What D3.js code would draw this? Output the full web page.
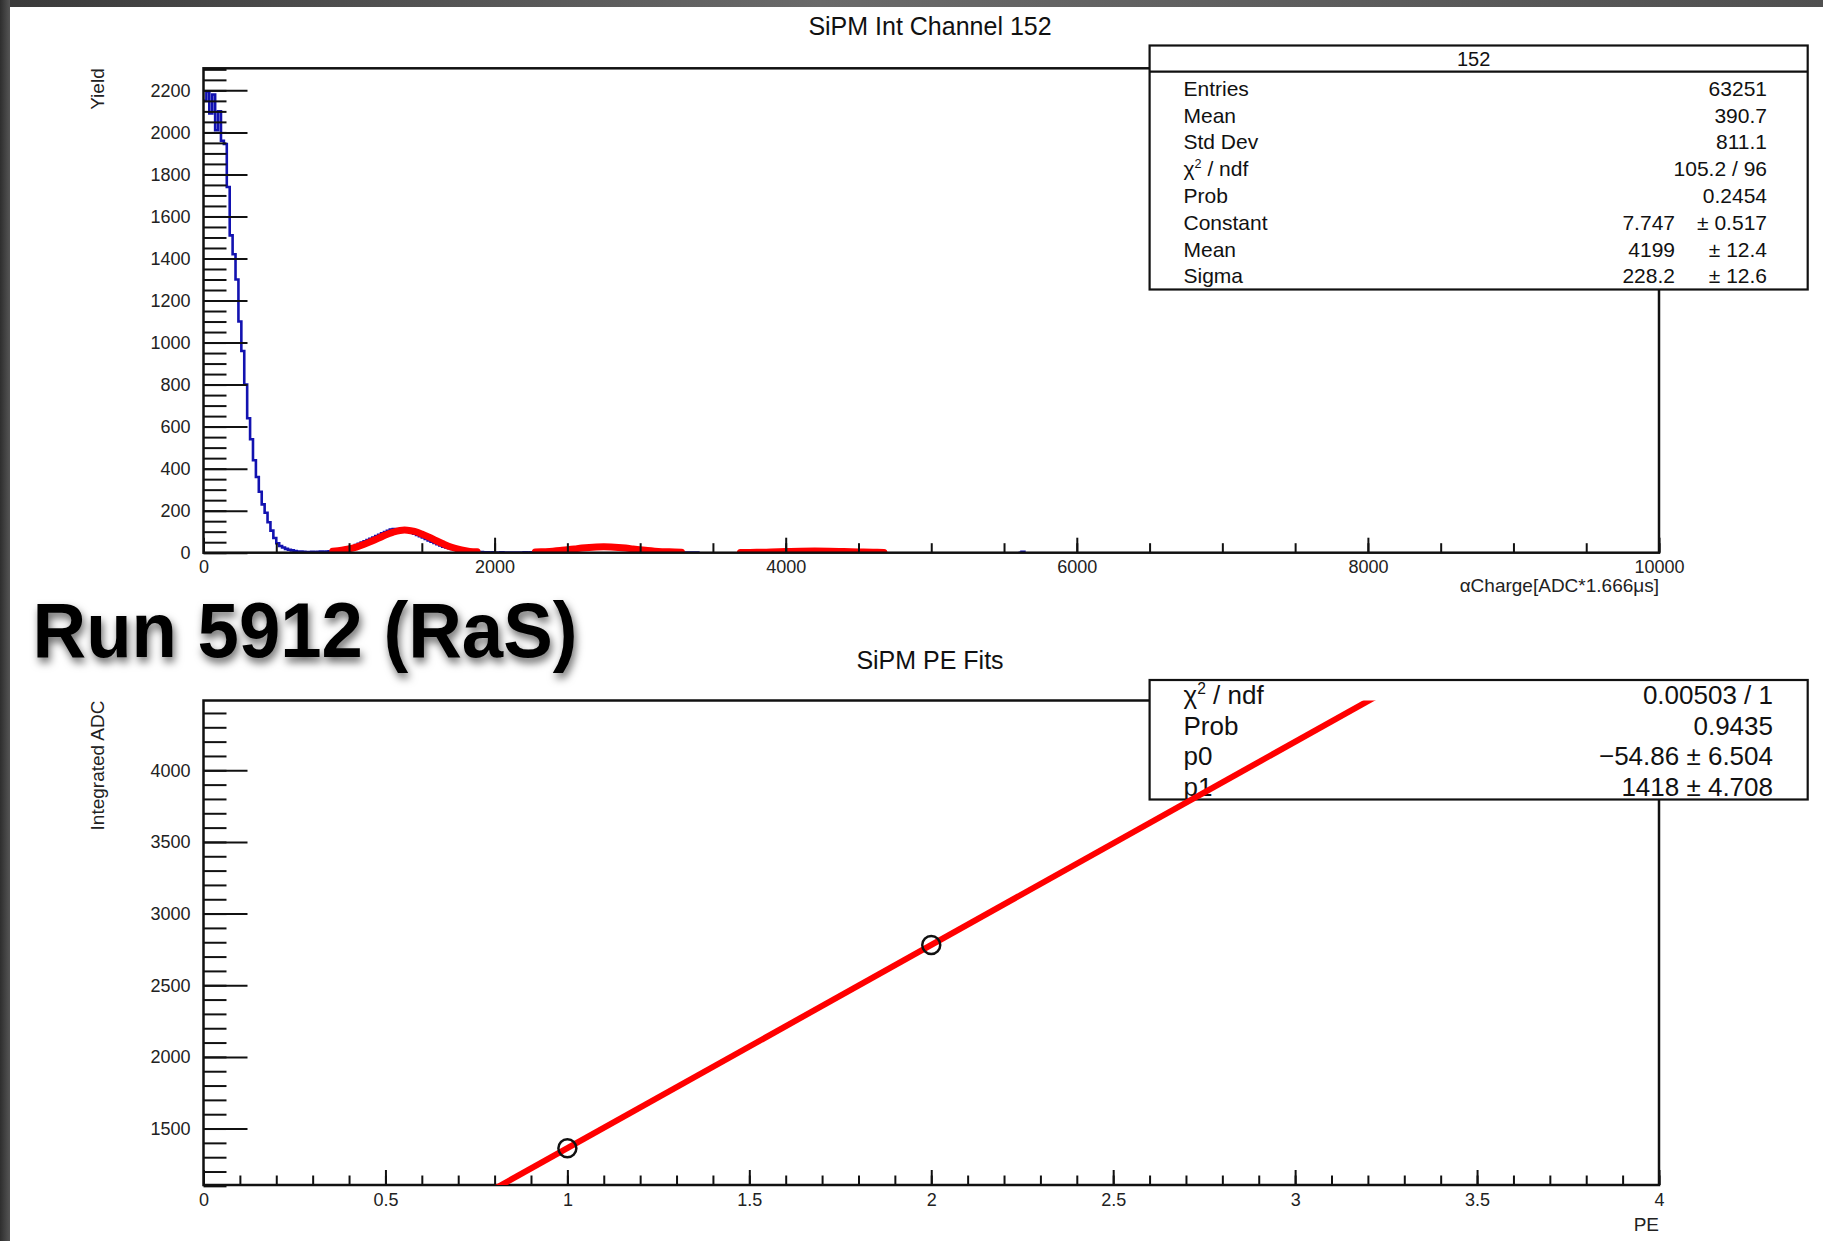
<!DOCTYPE html>
<html><head><meta charset="utf-8">
<script src="https://cdn.jsdelivr.net/npm/d3@7"></script>
<style>
body{margin:0;background:#fff;overflow:hidden}
svg{display:block}
text{font-family:"Liberation Sans",Arial,Helvetica,sans-serif}
</style>
</head><body>
<svg id="c" width="1823" height="1241"></svg>
<script>
// ---------------- DATA ----------------
// Top: SiPM Int Channel 152 histogram (bin width 20, starting at 0)
const histStart = 0;
const histBinWidth = 20;
const histCounts = [
  2150, 2195, 2090, 2180, 2010, 2100, 1960, 1945, 1740, 1510,
  1420, 1300, 1100, 960, 800, 640, 540, 440, 360, 290,
  230, 190, 145, 105, 70, 45, 32, 25, 18, 14,
  11, 8, 6, 5, 4, 3, 3, 4, 3, 4,
  5, 4, 6, 7, 9, 12, 14, 17, 20, 24,
  27, 31, 36, 42, 48, 54, 60, 66, 72, 79,
  85, 92, 98, 104, 110, 113, 109, 112, 106, 104,
  100, 96, 90, 84, 78, 72, 65, 58, 52, 46,
  40, 34, 29, 25, 21, 18, 15, 12, 10, 8,
  7, 6, 5, 4, 3, 3, 2, 2, 1, 2,
  1, 1, 2, 1, 1, 1, 1, 1, 1, 1,
  2, 1, 2, 2, 2, 3, 3, 4, 5, 6,
  7, 8, 10, 11, 13, 14, 16, 18, 20, 21,
  23, 24, 26, 27, 27, 28, 28, 29, 28, 28,
  27, 26, 25, 24, 22, 21, 19, 17, 15, 14,
  12, 11, 9, 8, 7, 6, 5, 4, 4, 3,
  3, 2, 2, 2, 1, 1, 1, 1, 1, 1
];
const strayBinStarts = [5620];
const strayBinCounts = [4];

// Gaussian fit curves
const peak1X = [888, 950, 1000, 1050, 1100, 1150, 1200, 1250, 1300, 1350, 1400, 1450, 1500, 1550, 1600, 1650, 1700, 1750, 1800, 1850, 1880];
const peak1Y = [7, 12, 18, 27, 39, 53, 68, 84, 97, 106, 107, 101, 89, 74, 57, 41, 27, 17, 10, 5, 4];
const peak2X = [2280, 2350, 2400, 2450, 2500, 2550, 2600, 2650, 2700, 2750, 2800, 2850, 2900, 2950, 3000, 3050, 3100, 3150, 3200, 3284];
const peak2Y = [3, 5, 7, 10, 14, 18, 22, 25, 27, 28, 27, 25, 22, 18, 14, 10, 7, 5, 4, 2];
const peak3X = [3689, 3800, 3900, 4000, 4100, 4199, 4300, 4400, 4500, 4600, 4675];
const peak3Y = [0.7, 1.7, 3.3, 5.4, 7.0, 7.7, 7.0, 5.5, 3.5, 2.0, 1.2];

const topXTicks = [0, 2000, 4000, 6000, 8000, 10000];
const topXTickLabels = ["0", "2000", "4000", "6000", "8000", "10000"];
const topYTicks = [0, 200, 400, 600, 800, 1000, 1200, 1400, 1600, 1800, 2000, 2200];
const topYTickLabels = ["0", "200", "400", "600", "800", "1000", "1200", "1400", "1600", "1800", "2000", "2200"];

const stats1Title = "152";
const stats1Labels = ["Entries", "Mean", "Std Dev", "CHI2", "Prob", "Constant", "Mean", "Sigma"];
const stats1Values = ["63251", "390.7", "811.1", "105.2 / 96", "0.2454", "7.747", "4199", "228.2"];
const stats1Errors = ["", "", "", "", "", "0.517", "12.4", "12.6"];

// Bottom: SiPM PE Fits
const peValues = [1, 2];
const adcValues = [1363, 2781];
const fitP0 = -54.86;
const fitP1 = 1418;
const fitRange = [0, 4];

const botXTicks = [0, 0.5, 1, 1.5, 2, 2.5, 3, 3.5, 4];
const botXTickLabels = ["0", "0.5", "1", "1.5", "2", "2.5", "3", "3.5", "4"];
const botYTicks = [1500, 2000, 2500, 3000, 3500, 4000];
const botYTickLabels = ["1500", "2000", "2500", "3000", "3500", "4000"];

const stats2Labels = ["CHI2", "Prob", "p0", "p1"];
const stats2Values = ["0.00503 / 1", "0.9435", "\u221254.86 \u00b1 6.504", "1418 \u00b1 4.708"];

// ---------------- DRAW ----------------
const W = 1823, H = 1241;
const svg = d3.select("#c");
const defs = svg.append("defs");

const tg = defs.append("linearGradient").attr("id", "topg").attr("x1", 0).attr("x2", 1).attr("y1", 0).attr("y2", 0);
tg.append("stop").attr("offset", "0").attr("stop-color", "#3a3a3a");
tg.append("stop").attr("offset", "0.45").attr("stop-color", "#6a6a6a");
tg.append("stop").attr("offset", "1").attr("stop-color", "#505050");
const lg = defs.append("linearGradient").attr("id", "leftg").attr("x1", 0).attr("x2", 1).attr("y1", 0).attr("y2", 0);
lg.append("stop").attr("offset", "0").attr("stop-color", "#2e2e2e");
lg.append("stop").attr("offset", "1").attr("stop-color", "#555");

const ds = defs.append("filter").attr("id", "shadow").attr("x", "-10%").attr("y", "-20%").attr("width", "130%").attr("height", "160%");
ds.append("feDropShadow").attr("dx", 2).attr("dy", 5).attr("stdDeviation", 4).attr("flood-color", "#000").attr("flood-opacity", 0.6);

svg.append("rect").attr("width", W).attr("height", H).attr("fill", "#fff");
svg.append("rect").attr("x", 0).attr("y", 0).attr("width", W).attr("height", 7).attr("fill", "url(#topg)");
svg.append("rect").attr("x", 0).attr("y", 0).attr("width", 10).attr("height", H).attr("fill", "url(#leftg)");

const TICKC = "#111", LABC = "#222";

function styleAxis(g, fs) {
  g.select(".domain").remove();
  g.selectAll(".tick line").attr("stroke", TICKC).attr("stroke-width", 2);
  g.selectAll(".tick text").attr("fill", LABC).attr("font-size", fs)
    .attr("font-family", '"Liberation Sans", Arial, sans-serif');
}

function drawFrame(box, x, y, xt, xtl, xMinor, yt, ytl, yMinor) {
  const g = svg.append("g");
  g.append("g").attr("transform", `translate(0,${box.b})`)
    .call(d3.axisBottom(x).tickValues(xMinor).tickFormat("").tickSize(-9.5))
    .call(a => styleAxis(a, 18));
  g.append("g").attr("transform", `translate(0,${box.b})`)
    .call(d3.axisBottom(x).tickValues(xt).tickFormat((d, i) => xtl[i]).tickSize(-15).tickPadding(8))
    .call(a => styleAxis(a, 18));
  g.append("g").attr("transform", `translate(${box.l},0)`)
    .call(d3.axisLeft(y).tickValues(yMinor).tickFormat("").tickSize(-23))
    .call(a => styleAxis(a, 18));
  g.append("g").attr("transform", `translate(${box.l},0)`)
    .call(d3.axisLeft(y).tickValues(yt).tickFormat((d, i) => ytl[i]).tickSize(-44).tickPadding(13))
    .call(a => styleAxis(a, 18));
  g.append("rect").attr("x", box.l).attr("y", box.t).attr("width", box.r - box.l).attr("height", box.b - box.t)
    .attr("fill", "none").attr("stroke", "#111").attr("stroke-width", 2.5);
}

function chiLabel(sel, x, y, fs) {
  const t = sel.append("text").attr("x", x).attr("y", y).attr("font-size", fs).attr("fill", "#111");
  t.append("tspan").text("\u03c7");
  t.append("tspan").attr("font-size", fs * 0.6).attr("dy", -fs * 0.38).text("2");
  t.append("tspan").attr("dy", fs * 0.38).text(" / ndf");
  return t;
}

// ===== TOP PLOT =====
const B1 = {l: 203.5, r: 1659, t: 68.3, b: 552.7};
const x1 = d3.scaleLinear().domain([0, 10000]).range([B1.l, B1.r]);
const y1 = d3.scaleLinear().domain([0, 2305]).range([B1.b, B1.t]);

defs.append("clipPath").attr("id", "clip1").append("rect")
  .attr("x", B1.l).attr("y", B1.t).attr("width", B1.r - B1.l).attr("height", B1.b - B1.t);

svg.append("text").attr("x", 930).attr("y", 35).attr("text-anchor", "middle")
  .attr("font-size", 25).attr("fill", "#111").text("SiPM Int Channel 152");

const histPts = histCounts.map((c, i) => [histStart + i * histBinWidth, c]);
histPts.push([histStart + histCounts.length * histBinWidth, 0]);
const stepLine = d3.line().x(d => x1(d[0])).y(d => y1(d[1])).curve(d3.curveStepAfter);
const hg = svg.append("g").attr("clip-path", "url(#clip1)");
hg.append("path").attr("d", stepLine(histPts)).attr("fill", "none")
  .attr("stroke", "#1212b0").attr("stroke-width", 2.6);
strayBinStarts.forEach((s, i) => {
  const pts = [[s - histBinWidth, 0], [s, strayBinCounts[i]], [s + histBinWidth, 0]];
  hg.append("path").attr("d", stepLine(pts)).attr("fill", "none")
    .attr("stroke", "#1212b0").attr("stroke-width", 2.6);
});

const fitLine = d3.line().x(d => x1(d[0])).y(d => y1(d[1])).curve(d3.curveCatmullRom);
[[peak1X, peak1Y], [peak2X, peak2Y], [peak3X, peak3Y]].forEach(([xs, ys]) => {
  hg.append("path").attr("d", fitLine(xs.map((v, i) => [v, ys[i]])))
    .attr("fill", "none").attr("stroke", "#ff0000").attr("stroke-width", 7).attr("stroke-linecap", "round");
});

drawFrame(B1, x1, y1, topXTicks, topXTickLabels, d3.range(0, 10001, 500),
  topYTicks, topYTickLabels, d3.range(0, 2301, 50));

svg.append("text").attr("transform", `translate(104,${B1.t}) rotate(-90)`).attr("text-anchor", "end")
  .attr("font-size", 19).attr("fill", "#222").text("Yield");
svg.append("text").attr("x", B1.r).attr("y", 592).attr("text-anchor", "end")
  .attr("font-size", 19).attr("fill", "#222").text("\u03b1Charge[ADC*1.666\u03bcs]");

// stats box 1
const S1 = {l: 1149.6, r: 1807.7, t: 45.5, b: 289.5, sep: 71.7};
const sb1 = svg.append("g");
sb1.append("rect").attr("x", S1.l).attr("y", S1.t).attr("width", S1.r - S1.l).attr("height", S1.b - S1.t)
  .attr("fill", "#fff").attr("stroke", "#111").attr("stroke-width", 2.2);
sb1.append("line").attr("x1", S1.l).attr("x2", S1.r).attr("y1", S1.sep).attr("y2", S1.sep)
  .attr("stroke", "#111").attr("stroke-width", 2.2);
sb1.append("text").attr("x", (S1.l + S1.r) / 2 - 5).attr("y", 66).attr("text-anchor", "middle")
  .attr("font-size", 20).attr("fill", "#111").text(stats1Title);
stats1Labels.forEach((lab, i) => {
  const yy = 95.7 + i * 26.8;
  if (lab === "CHI2") chiLabel(sb1, 1183.5, yy, 21);
  else sb1.append("text").attr("x", 1183.5).attr("y", yy).attr("font-size", 21).attr("fill", "#111").text(lab);
  if (stats1Errors[i]) {
    sb1.append("text").attr("x", 1675).attr("y", yy).attr("text-anchor", "end").attr("font-size", 21)
      .attr("fill", "#111").text(stats1Values[i]);
    sb1.append("text").attr("x", 1767).attr("y", yy).attr("text-anchor", "end").attr("font-size", 21)
      .attr("fill", "#111").text("\u00b1 " + stats1Errors[i]);
  } else {
    sb1.append("text").attr("x", 1767).attr("y", yy).attr("text-anchor", "end").attr("font-size", 21)
      .attr("fill", "#111").text(stats1Values[i]);
  }
});

// ===== BIG LABEL =====
svg.append("text").attr("x", 32.5).attr("y", 657).attr("font-size", 77).attr("font-weight", "bold")
  .attr("fill", "#000").attr("textLength", 545).attr("lengthAdjust", "spacingAndGlyphs")
  .attr("filter", "url(#shadow)").text("Run 5912 (RaS)");

// ===== BOTTOM PLOT =====
const B2 = {l: 203.5, r: 1659, t: 700.5, b: 1185};
const x2 = d3.scaleLinear().domain([0, 4]).range([B2.l, B2.r]);
const y2 = d3.scaleLinear().domain([1106, 4487]).range([B2.b, B2.t]);
defs.append("clipPath").attr("id", "clip2").append("rect")
  .attr("x", B2.l).attr("y", B2.t).attr("width", B2.r - B2.l).attr("height", B2.b - B2.t);

svg.append("text").attr("x", 930).attr("y", 669).attr("text-anchor", "middle")
  .attr("font-size", 25).attr("fill", "#111").text("SiPM PE Fits");

drawFrame(B2, x2, y2, botXTicks, botXTickLabels, d3.range(0, 4.001, 0.1),
  botYTicks, botYTickLabels, d3.range(1100, 4401, 100));

svg.append("text").attr("transform", `translate(104,${B2.t}) rotate(-90)`).attr("text-anchor", "end")
  .attr("font-size", 19).attr("fill", "#222").text("Integrated ADC");
svg.append("text").attr("x", B2.r).attr("y", 1231).attr("text-anchor", "end")
  .attr("font-size", 19).attr("fill", "#222").text("PE");

// stats box 2
const S2 = {l: 1149.6, r: 1807.7, t: 680, b: 799.5};
const sb2 = svg.append("g");
sb2.append("rect").attr("x", S2.l).attr("y", S2.t).attr("width", S2.r - S2.l).attr("height", S2.b - S2.t)
  .attr("fill", "#fff").attr("stroke", "#111").attr("stroke-width", 2.2);
stats2Labels.forEach((lab, i) => {
  const yy = 704 + i * 30.5;
  if (lab === "CHI2") chiLabel(sb2, 1183.5, yy, 26);
  else sb2.append("text").attr("x", 1183.5).attr("y", yy).attr("font-size", 26).attr("fill", "#111").text(lab);
  sb2.append("text").attr("x", 1773).attr("y", yy).attr("text-anchor", "end").attr("font-size", 26)
    .attr("fill", "#111").text(stats2Values[i]);
});

// fit line
const fitPts = fitRange.map(v => [v, fitP0 + fitP1 * v]);
svg.append("g").attr("clip-path", "url(#clip2)").append("path")
  .attr("d", d3.line().x(d => x2(d[0])).y(d => y2(d[1]))(fitPts))
  .attr("fill", "none").attr("stroke", "#ff0000").attr("stroke-width", 6);

// data points
svg.append("g").selectAll("circle").data(peValues).join("circle")
  .attr("cx", d => x2(d)).attr("cy", (d, i) => y2(adcValues[i])).attr("r", 9)
  .attr("fill", "none").attr("stroke", "#111").attr("stroke-width", 2.5);
</script>
</body></html>
